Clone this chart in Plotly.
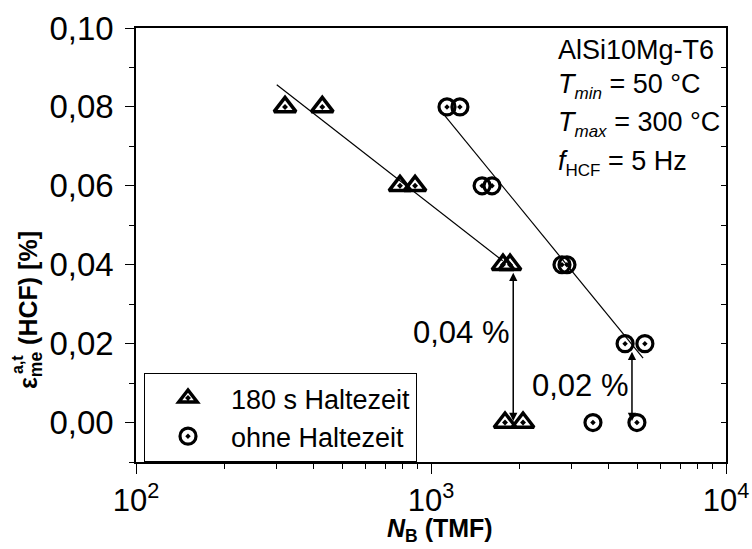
import math
import plotly.graph_objects as go

# Measured fatigue lives N_B (TMF) and mechanical strain amplitudes (HCF, %)
tri_N = [320, 428, 785, 883, 1754, 1853, 1782, 2051]
tri_eps = [0.08, 0.08, 0.06, 0.06, 0.04, 0.04, 0.00, 0.00]
circ_N = [1133, 1253, 1490, 1610, 2780, 2890, 4549, 5309, 3540, 4989]
circ_eps = [0.08, 0.08, 0.06, 0.06, 0.04, 0.04, 0.02, 0.02, 0.00, 0.00]

# Trend lines (end points)
fit1_N = [300, 1750]
fit1_eps = [0.0856, 0.041]
fit2_N = [1089, 5236]
fit2_eps = [0.0787, 0.0163]

# Strain offsets marked with double arrows
arrow_N = [1900, 4800]
arrow_top = [0.04, 0.02]
arrow_labels = ["0,04 %", "0,02 %"]
arrow_label_eps = [0.0227, 0.0095]

y_ticks = [0.00, 0.02, 0.04, 0.06, 0.08, 0.10]
y_labels = ["0,00", "0,02", "0,04", "0,06", "0,08", "0,10"]
y_minor = [-0.01, 0.01, 0.03, 0.05, 0.07, 0.09]
y_all = [round(-0.01 + 0.01 * i, 2) for i in range(12)]
x_ticks = [100, 1000, 10000]
x_labels = ["10<sup>2</sup>", "10<sup>3</sup>", "10<sup>4</sup>"]
x_minor = [m * d for d in (100, 1000) for m in range(2, 10)]

SUB = "<span style='font-size:17px'>{}</span>"
info_lines = [
    "AlSi10Mg-T6",
    "<i>T</i><sub><i>" + SUB.format("min") + "</i></sub> = 50 °C",
    "<i>T</i><sub><i>" + SUB.format("max") + "</i></sub> = 300 °C",
    "<i>f</i><sub>" + SUB.format("HCF") + "</sub> = 5 Hz",
]

FONT = "Liberation Sans, Arial, sans-serif"
W, H = 752, 549
L, R, T, B = 136, 26, 28, 87


def px_x(p):
    return (p - L) / (W - L - R)


def px_y(p):
    return (H - B - p) / (H - B - T)


fig = go.Figure()

fig.add_trace(go.Scatter(x=fit1_N, y=fit1_eps, mode="lines",
                         line=dict(color="black", width=1.2),
                         showlegend=False, hoverinfo="skip"))
fig.add_trace(go.Scatter(x=fit2_N, y=fit2_eps, mode="lines",
                         line=dict(color="black", width=1.2),
                         showlegend=False, hoverinfo="skip"))

fig.add_trace(go.Scatter(
    x=tri_N, y=tri_eps, mode="markers", name="180 s Haltezeit",
    marker=dict(symbol="triangle-up-open-dot", size=19, color="black",
                line=dict(width=3.5, color="black"))))
fig.add_trace(go.Scatter(
    x=circ_N, y=circ_eps, mode="markers", name="ohne Haltezeit",
    marker=dict(symbol="circle-open-dot", size=16, color="black",
                line=dict(width=3.2, color="black"))))

# invisible helper so the right-hand axis with inward ticks is drawn
fig.add_trace(go.Scatter(x=[tri_N[0]], y=[tri_eps[0]], yaxis="y2", mode="markers",
                         marker=dict(opacity=0), showlegend=False, hoverinfo="skip"))

annotations = []
for n, top, lab, ly in zip(arrow_N, arrow_top, arrow_labels, arrow_label_eps):
    lx = math.log10(n)
    annotations.append(dict(
        x=lx, y=top, ax=lx, ay=0.0, xref="x", yref="y", axref="x", ayref="y",
        text="", showarrow=True, arrowhead=2, arrowside="end+start",
        arrowsize=1.1, arrowwidth=1.5, arrowcolor="black",
        standoff=8, startstandoff=0))
    annotations.append(dict(
        x=lx, y=ly, xref="x", yref="y", text=lab, showarrow=False,
        xanchor="right", yanchor="middle", xshift=-1,
        font=dict(family=FONT, size=31, color="black")))

info_y = [50, 86, 124, 163]
for txt, yp in zip(info_lines, info_y):
    annotations.append(dict(
        x=px_x(556), y=px_y(yp), xref="paper", yref="paper", text=txt,
        showarrow=False, xanchor="left", yanchor="middle",
        font=dict(family=FONT, size=27, color="black")))

# axis titles
annotations.append(dict(
    x=px_x(440), y=px_y(530), xref="paper", yref="paper",
    text="<b><i>N</i><sub>B</sub> (TMF)</b>", showarrow=False,
    xanchor="center", yanchor="middle",
    font=dict(family=FONT, size=25, color="black")))
annotations.append(dict(
    x=px_x(30), y=px_y(310), xref="paper", yref="paper",
    text="<b>ε<sub>me</sub> (HCF) [%]</b>", showarrow=False, textangle=-90,
    xanchor="center", yanchor="middle",
    font=dict(family=FONT, size=25, color="black")))
annotations.append(dict(
    x=px_x(17), y=px_y(364), xref="paper", yref="paper",
    text="<b>a,t</b>", showarrow=False, textangle=-90,
    xanchor="center", yanchor="middle",
    font=dict(family=FONT, size=16, color="black")))

fig.update_layout(
    width=W, height=H,
    margin=dict(l=L, r=R, t=T, b=B, autoexpand=False),
    paper_bgcolor="white", plot_bgcolor="white",
    font=dict(family=FONT, color="black"),
    showlegend=True,
    legend=dict(x=px_x(144), y=px_y(373), xanchor="left", yanchor="top",
                bgcolor="white", bordercolor="black", borderwidth=1,
                font=dict(family=FONT, size=27, color="black"),
                itemwidth=76, tracegroupgap=0),
    annotations=annotations,
    xaxis=dict(type="log", range=[2, 4], showgrid=False, zeroline=False,
               automargin=False,
               showline=True, linecolor="black", linewidth=1.5, mirror=True,
               tickmode="array", tickvals=x_ticks, ticktext=x_labels,
               ticks="outside", ticklen=10, tickwidth=1.2, tickcolor="black",
               tickfont=dict(family=FONT, size=31, color="black"),
               minor=dict(tickmode="array", tickvals=x_minor, ticks="outside",
                          ticklen=5, tickwidth=1.2, tickcolor="black", showgrid=False)),
    yaxis=dict(range=[-0.01, 0.10], showgrid=False, zeroline=False,
               automargin=False,
               showline=True, linecolor="black", linewidth=1.5, mirror=True,
               tickmode="array", tickvals=y_ticks, ticktext=y_labels,
               ticks="outside", ticklen=9, tickwidth=1.2, tickcolor="black",
               ticklabelstandoff=5,
               tickfont=dict(family=FONT, size=33, color="black"),
               minor=dict(tickmode="array", tickvals=y_minor, ticks="outside",
                          ticklen=5, tickwidth=1.2, tickcolor="black", showgrid=False)),
    yaxis2=dict(overlaying="y", side="right", range=[-0.01, 0.10],
                automargin=False,
                showgrid=False, zeroline=False, showline=False,
                tickmode="array", tickvals=y_all, ticks="inside", ticklen=5,
                tickwidth=1.2, tickcolor="black", showticklabels=False),
)

fig.write_html("out.html")
